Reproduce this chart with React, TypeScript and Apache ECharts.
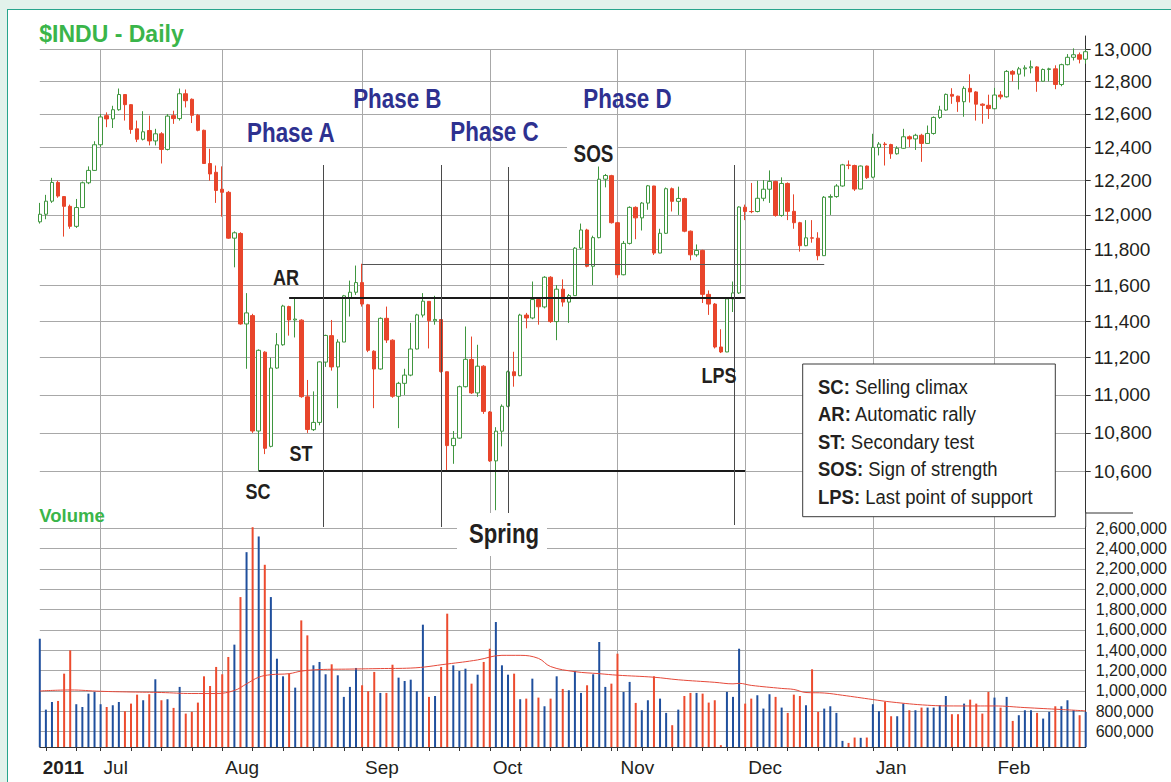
import React, { useEffect, useRef } from 'react';
import * as echarts from 'echarts';

const FONT = '"Liberation Sans", Arial, Helvetica, sans-serif';

// Trading days shown on the chart (year-month, day numbers)
const tradingDays: [string, number[]][] = [
  ['2011-06', [17, 20, 21, 22, 23, 24, 27, 28, 29, 30]],
  ['2011-07', [1, 5, 6, 7, 8, 11, 12, 13, 14, 15, 18, 19, 20, 21, 22, 25, 26, 27, 28, 29]],
  ['2011-08', [1, 2, 3, 4, 5, 8, 9, 10, 11, 12, 15, 16, 17, 18, 19, 22, 23, 24, 25, 26, 29, 30, 31]],
  ['2011-09', [1, 2, 6, 7, 8, 9, 12, 13, 14, 15, 16, 19, 20, 21, 22, 23, 26, 27, 28, 29, 30]],
  ['2011-10', [3, 4, 5, 6, 7, 10, 11, 12, 13, 14, 17, 18, 19, 20, 21, 24, 25, 26, 27, 28, 31]],
  ['2011-11', [1, 2, 3, 4, 7, 8, 9, 10, 11, 14, 15, 16, 17, 18, 21, 22, 23, 25, 28, 29, 30]],
  ['2011-12', [1, 2, 5, 6, 7, 8, 9, 12, 13, 14, 15, 16, 19, 20, 21, 22, 23, 27, 28, 29, 30]],
  ['2012-01', [3, 4, 5, 6, 9, 10, 11, 12, 13, 17, 18, 19, 20, 23, 24, 25, 26, 27, 30, 31]],
  ['2012-02', [1, 2, 3, 6, 7, 8, 9, 10, 13, 14, 15, 16, 17, 21, 22, 23]],
];
const dates: string[] = tradingDays.flatMap(([ym, days]) =>
  days.map((d) => `${ym}-${String(d).padStart(2, '0')}`)
);

const opens = [
  11960, 12004, 12080, 12190, 12107, 12050, 11934, 12043, 12188, 12261,
  12414, 12590, 12570, 12626, 12719, 12657, 12510, 12447, 12500, 12437,
  12480, 12386, 12590, 12572, 12724, 12690, 12592, 12501, 12302, 12250,
  12150, 12132, 11866, 11893, 11384, 11430, 10810, 11230, 10730, 11144,
  11270, 11480, 11406, 11405, 10990, 10817, 10855, 11176, 11320, 11150,
  11285, 11530, 11560, 11614, 11490, 11235, 11139, 11415, 11295, 10993,
  11062, 11106, 11247, 11433, 11509, 11401, 11408, 11124, 10734, 10773,
  11044, 11190, 11011, 11154, 10910, 10655, 10809, 10940, 11124, 11103,
  11433, 11417, 11519, 11478, 11644, 11397, 11577, 11505, 11541, 11809,
  11913, 11706, 11869, 12209, 12230, 11955, 11658, 11836, 12044, 11983,
  12069, 12169, 11781, 11894, 12153, 12079, 12095, 11906, 11771, 11796,
  11548, 11494, 11258, 11231, 11523, 11556, 12045, 12020, 12020, 12097,
  12150, 12196, 11997, 12184, 12021, 11955, 11823, 11868, 11866, 11766,
  12103, 12107, 12169, 12293, 12290, 12151, 12287, 12221, 12398, 12418,
  12415, 12360, 12393, 12462, 12449, 12471, 12422, 12482, 12579, 12624,
  12720, 12709, 12675, 12757, 12735, 12660, 12653, 12632, 12716, 12705,
  12862, 12845, 12878, 12884, 12890, 12801, 12874, 12878, 12781, 12904,
  12950, 12966, 12938,
];
const closes = [
  12004, 12080, 12190, 12110, 12050, 11934, 12043, 12188, 12261, 12414,
  12582, 12570, 12626, 12719, 12657, 12506, 12447, 12492, 12437, 12480,
  12386, 12587, 12572, 12724, 12681, 12592, 12501, 12302, 12240, 12143,
  12132, 11866, 11897, 11384, 11445, 10810, 11240, 10720, 11144, 11270,
  11483, 11406, 11411, 10991, 10818, 10855, 11177, 11321, 11150, 11285,
  11540, 11560, 11614, 11494, 11240, 11139, 11415, 11296, 10993, 11062,
  11106, 11247, 11434, 11510, 11402, 11409, 11125, 10734, 10772, 11044,
  11191, 11011, 11154, 10913, 10655, 10809, 10940, 11124, 11103, 11433,
  11417, 11519, 11479, 11644, 11397, 11577, 11505, 11541, 11809, 11913,
  11706, 11869, 12209, 12231, 11955, 11658, 11836, 12044, 11983, 12069,
  12170, 11781, 11894, 12153, 12079, 12096, 11906, 11771, 11796, 11548,
  11494, 11258, 11231, 11523, 11556, 12046, 12020, 12019, 12097, 12150,
  12196, 11997, 12184, 12021, 11955, 11823, 11868, 11866, 11766, 12103,
  12107, 12169, 12294, 12291, 12151, 12287, 12218, 12398, 12418, 12415,
  12360, 12393, 12462, 12449, 12471, 12422, 12482, 12579, 12624, 12720,
  12709, 12675, 12757, 12735, 12660, 12653, 12633, 12716, 12705, 12862,
  12845, 12878, 12884, 12891, 12801, 12874, 12878, 12781, 12904, 12950,
  12966, 12938, 12985,
];
const lows = [
  11950, 11975, 12070, 12100, 11875, 11920, 11925, 12040, 12180, 12258,
  12400, 12520, 12515, 12620, 12560, 12480, 12430, 12440, 12410, 12410,
  12302, 12380, 12540, 12560, 12640, 12545, 12495, 12300, 12200, 12070,
  11990, 11862, 11700, 11380, 11140, 10800, 10604, 10690, 10725, 11140,
  11265, 11320, 11310, 10985, 10800, 10810, 10840, 11150, 11130, 10930,
  11285, 11425, 11545, 11480, 11230, 10930, 11135, 11280, 10985, 10825,
  11000, 11100, 11245, 11420, 11250, 11380, 11120, 10600, 10640, 10770,
  11040, 11005, 10990, 10900, 10650, 10404, 10730, 10935, 11044, 11100,
  11360, 11410, 11380, 11470, 11390, 11295, 11480, 11390, 11540, 11800,
  11700, 11600, 11865, 12161, 11950, 11640, 11655, 11830, 11860, 11910,
  12030, 11770, 11780, 11890, 12020, 12000, 11900, 11740, 11760, 11500,
  11434, 11250, 11225, 11230, 11450, 11550, 11970, 12010, 12015, 12080,
  12070, 11990, 11990, 11970, 11920, 11789, 11820, 11840, 11740, 11765,
  12000, 12100, 12165, 12268, 12140, 12150, 12210, 12215, 12350, 12290,
  12330, 12355, 12390, 12400, 12383, 12312, 12420, 12475, 12570, 12620,
  12662, 12613, 12583, 12670, 12560, 12541, 12570, 12630, 12690, 12700,
  12800, 12750, 12830, 12850, 12736, 12800, 12800, 12752, 12770, 12900,
  12930, 12912, 12910,
];
const highs = [
  12070, 12117, 12217, 12200, 12110, 12060, 12093, 12195, 12285, 12435,
  12600, 12610, 12650, 12756, 12720, 12660, 12560, 12617, 12590, 12510,
  12490, 12600, 12620, 12756, 12750, 12695, 12600, 12505, 12390, 12290,
  12285, 12140, 11905, 11900, 11555, 11440, 11245, 11235, 11200, 11334,
  11490, 11485, 11527, 11410, 11080, 11019, 11180, 11325, 11406, 11300,
  11545, 11625, 11710, 11720, 11495, 11240, 11420, 11480, 11300, 11070,
  11140, 11390, 11440, 11555, 11510, 11540, 11410, 11125, 10810, 11050,
  11370, 11315, 11270, 11160, 10915, 10830, 10950, 11130, 11232, 11440,
  11445, 11620, 11525, 11650, 11650, 11600, 11632, 11550, 11815, 11950,
  11920, 11880, 12284, 12240, 12235, 11960, 11850, 12050, 12050, 12075,
  12175, 12170, 11920, 12160, 12160, 12165, 12100, 11910, 11830, 11800,
  11570, 11500, 11355, 11530, 11620, 12050, 12060, 12187, 12200, 12204,
  12261, 12200, 12220, 12190, 12120, 11960, 11970, 11970, 11900, 12110,
  12120, 12180, 12300, 12320, 12295, 12290, 12290, 12480, 12430, 12430,
  12420, 12405, 12510, 12470, 12480, 12480, 12530, 12585, 12650, 12725,
  12758, 12712, 12770, 12844, 12740, 12665, 12718, 12760, 12740, 12870,
  12870, 12890, 12900, 12930, 12895, 12880, 12885, 12900, 12910, 12970,
  13006, 12980, 13000,
];
// Daily volume, thousands
const volumesK = [
  1513, 817, 892, 902, 1170, 1399, 870, 843, 974, 991,
  870, 843, 860, 892, 801, 876, 964, 909, 968, 1115,
  909, 919, 834, 1040, 778, 795, 886, 1144, 1049, 1236,
  1164, 1334, 1455, 1922, 2363, 2608, 2517, 2239, 1922, 1317,
  1144, 1170, 1033, 1693, 1546, 1252, 1285, 1164, 1262, 1154,
  942, 1040, 1226, 1056, 997, 1187, 981, 981, 1258, 1131,
  1098, 1111, 997, 1651, 942, 951, 1236, 1759, 1252, 1196,
  1219, 1072, 1160, 1285, 1415, 1677, 1252, 1160, 1170, 919,
  925, 1121, 935, 850, 925, 1144, 1020, 1007, 1196, 981,
  1056, 1164, 1481, 1040, 1072, 1366, 990, 1089, 883, 811,
  909, 1144, 925, 785, 664, 817, 951, 981, 981, 974,
  886, 909, 468, 991, 942, 1415, 876, 925, 958, 827,
  968, 942, 837, 785, 964, 951, 860, 1213, 795, 827,
  850, 785, 510, 490, 543, 540, 543, 870, 801, 893,
  752, 752, 876, 811, 811, 837, 837, 837, 860, 951,
  772, 772, 876, 915, 876, 778, 991, 935, 837, 942,
  706, 762, 811, 811, 785, 729, 795, 850, 850, 909,
  811, 762, 795,
];
// Volume moving-average line: [day index, volume]
const volumeAvgPoints: [number, number][] = [
  [0, 1000000], [5, 1010000], [10, 997000], [15, 990000], [20, 985000], [25, 975000],
  [29, 975000], [32, 1005000], [34, 1070000], [36, 1135000], [38, 1160000], [41, 1170000],
  [43, 1195000], [46, 1210000], [51, 1215000], [56, 1220000], [61, 1225000], [67, 1265000],
  [72, 1305000], [76, 1350000], [79, 1350000], [82, 1320000], [84, 1240000], [88, 1190000],
  [92, 1170000], [95, 1155000], [101, 1135000], [105, 1110000], [111, 1085000], [114, 1070000],
  [115, 1075000], [117, 1055000], [122, 1025000], [124, 1015000], [126, 985000], [129, 980000],
  [132, 958000], [137, 916000], [140, 892000], [146, 860000], [151, 853000], [157, 853000],
  [162, 837000], [168, 818000], [172, 805000],
];

const priceTicks = [10600, 10800, 11000, 11200, 11400, 11600, 11800, 12000, 12200, 12400, 12600, 12800, 13000];
const volumeTicks = [600000, 800000, 1000000, 1200000, 1400000, 1600000, 1800000, 2000000, 2200000, 2400000, 2600000];
const monthNames = ['Jan', 'Feb', 'Mar', 'Apr', 'May', 'Jun', 'Jul', 'Aug', 'Sep', 'Oct', 'Nov', 'Dec'];

// Wyckoff annotations (day indexes and price levels)
const supportLine = { from: 36, to: 116, price: 10604 };
const resistanceLine = { from: 41, to: 116, price: 11530 };
const upperLine = { from: 53, to: 129, price: 11720 };
const phaseDividers = [
  { at: 46.62, top: 165, bottom: 527 },
  { at: 65.93, top: 165, bottom: 527 },
  { at: 77.05, top: 167, bottom: 517 },
  { at: 114.16, top: 165, bottom: 525 },
];
const phaseLabels = [
  { text: 'Phase A', x: 290.8, y: 131.6 },
  { text: 'Phase B', x: 397.3, y: 98.2 },
  { text: 'Phase C', x: 494.5, y: 130.6 },
  { text: 'Phase D', x: 627.5, y: 98.2 },
];
const eventLabels = [
  { text: 'AR', x: 286, y: 277, size: 22 },
  { text: 'ST', x: 301, y: 453, size: 22 },
  { text: 'SC', x: 258, y: 491, size: 22 },
  { text: 'SOS', x: 593.5, y: 153.4, size: 23 },
  { text: 'LPS', x: 719, y: 375.4, size: 22 },
  { text: 'Spring', x: 504, y: 533.6, size: 27 },
];
const legendItems: [string, string][] = [
  ['SC:', 'Selling climax'],
  ['AR:', 'Automatic rally'],
  ['ST:', 'Secondary test'],
  ['SOS:', 'Sign of strength'],
  ['LPS:', 'Last point of support'],
];

const UP = '#3f963f';
const DOWN = '#e8452b';
const VOL_UP = '#1f4f9d';
const VOL_DOWN = '#ec4b2e';
const GRIDC = '#a8a8a8';
const TEXT = '#231f20';
const NAVY = '#2e3190';
const GREEN = '#3ab54a';

const monthOf = (d: string) => d.slice(0, 7);
const monthStart = dates.map((d, i) => i > 0 && monthOf(d) !== monthOf(dates[i - 1]));
const isMonday = dates.map((d) => new Date(d + 'T12:00:00Z').getUTCDay() === 1);

export default function App() {
  const ref = useRef<HTMLDivElement>(null);

  useEffect(() => {
    const el = ref.current;
    if (!el) return;
    const chart = echarts.init(el, null, { renderer: 'svg' });
    const L = 39.8;
    const R = 85.3;
    const logTicks = priceTicks.map((p) => Math.log(p));
    const candleData = dates.map((_, i) => [
      Math.log(opens[i]),
      Math.log(closes[i]),
      Math.log(lows[i]),
      Math.log(highs[i]),
    ]);
    const volData = volumesK.map((v, i) => ({
      value: v * 1000,
      itemStyle: { color: i === 0 || closes[i] >= closes[i - 1] ? VOL_UP : VOL_DOWN },
    }));
    const hLine = (ln: { from: number; to: number; price: number }, color: string, width: number) => [
      { coord: [dates[ln.from], Math.log(ln.price)], lineStyle: { color, width, type: 'solid' } },
      { coord: [dates[ln.to], Math.log(ln.price)] },
    ];

    chart.setOption({
      animation: false,
      backgroundColor: 'transparent',
      grid: [
        { left: L, right: R, top: 36, height: 476, outerBoundsMode: 'none' },
        { left: L, right: R, top: 527, height: 220, outerBoundsMode: 'none' },
        { left: L, right: R, top: 49, height: 698, outerBoundsMode: 'none' },
      ],
      xAxis: [
        { gridIndex: 0, type: 'category', data: dates, boundaryGap: false, show: false },
        {
          gridIndex: 1,
          type: 'category',
          data: dates,
          boundaryGap: false,
          axisLine: { show: true, lineStyle: { color: '#333', width: 1 } },
          axisTick: {
            show: true,
            interval: (i: number) => isMonday[i] || monthStart[i],
            length: 4,
            lineStyle: { color: '#333' },
          },
          axisLabel: {
            interval: (i: number) => i === 0 || monthStart[i],
            formatter: (value: string, index: number) =>
              index === 0 ? `{y|${value.slice(0, 4)}}` : monthNames[Number(value.slice(5, 7)) - 1],
            align: 'left',
            padding: [0, 0, 0, 3],
            margin: 11,
            color: TEXT,
            fontSize: 19,
            fontFamily: FONT,
            hideOverlap: false,
            rich: { y: { fontWeight: 'bold', fontSize: 19, fontFamily: FONT, color: TEXT } },
          },
          splitLine: { show: false },
        },
        {
          gridIndex: 2,
          type: 'category',
          data: dates,
          boundaryGap: false,
          axisLine: { show: false },
          axisTick: { show: false },
          axisLabel: { show: false },
          splitLine: {
            show: true,
            interval: (i: number) => monthStart[i],
            lineStyle: { color: GRIDC, width: 1 },
          },
        },
      ],
      yAxis: [
        {
          gridIndex: 0,
          type: 'value',
          position: 'right',
          min: Math.log(10395),
          max: Math.log(13084),
          axisLine: { show: true, lineStyle: { color: '#333', width: 1 } },
          axisTick: { show: true, customValues: logTicks, length: 5, lineStyle: { color: '#333' } },
          axisLabel: {
            customValues: logTicks,
            formatter: (v: number) => Math.round(Math.exp(v)).toLocaleString('en-US'),
            margin: 8,
            color: TEXT,
            fontSize: 19,
            fontFamily: FONT,
          },
          splitLine: { show: true, lineStyle: { color: GRIDC, width: 1 } },
        },
        {
          gridIndex: 1,
          type: 'value',
          position: 'right',
          min: 450000,
          max: 2610000,
          axisLine: { show: true, lineStyle: { color: '#333', width: 1 } },
          axisTick: { show: false, customValues: volumeTicks },
          axisLabel: {
            customValues: volumeTicks,
            formatter: (v: number) => Math.round(v).toLocaleString('en-US'),
            margin: 10,
            color: TEXT,
            fontSize: 16,
            fontFamily: FONT,
          },
          splitLine: { show: true, lineStyle: { color: GRIDC, width: 1 } },
        },
        { gridIndex: 2, type: 'value', show: false, min: 0, max: 1 },
      ],
      series: [
        {
          type: 'candlestick',
          xAxisIndex: 0,
          yAxisIndex: 0,
          data: candleData,
          barWidth: 4,
          itemStyle: {
            color: '#ffffff',
            color0: DOWN,
            borderColor: UP,
            borderColor0: DOWN,
            borderWidth: 1,
          },
          markLine: {
            silent: true,
            symbol: ['none', 'none'],
            label: { show: false },
            lineStyle: { color: '#1a1a1a', width: 2, type: 'solid' },
            data: [
              hLine(supportLine, '#1a1a1a', 2),
              hLine(resistanceLine, '#1a1a1a', 2),
              hLine(upperLine, '#555555', 1),
            ],
          },
        },
        {
          type: 'bar',
          xAxisIndex: 1,
          yAxisIndex: 1,
          data: volData,
          barWidth: 2,
        },
        {
          type: 'line',
          xAxisIndex: 1,
          yAxisIndex: 1,
          data: volumeAvgPoints,
          smooth: 0.4,
          symbol: 'none',
          lineStyle: { color: '#e5493a', width: 1 },
          z: 3,
        },
      ],
    });

    const xAt = (pos: number) => {
      const a = Math.floor(pos);
      const pa = chart.convertToPixel({ xAxisIndex: 0 }, a) as number;
      const pb = chart.convertToPixel({ xAxisIndex: 0 }, a + 1) as number;
      return pa + (pb - pa) * (pos - a);
    };

    const graphics: any[] = [];
    phaseDividers.forEach((p) => {
      const x = Math.round(xAt(p.at)) + 0.5;
      graphics.push({
        type: 'line',
        z: 12,
        shape: { x1: x, y1: p.top, x2: x, y2: p.bottom },
        style: { stroke: '#4a4a4a', lineWidth: 1 },
      });
    });
    // axis connector between the two panels
    graphics.push({ type: 'line', z: 12, shape: { x1: 1085.7, y1: 512, x2: 1085.7, y2: 527 }, style: { stroke: '#333', lineWidth: 1 } });
    graphics.push({ type: 'line', z: 12, shape: { x1: 1085.7, y1: 513, x2: 1133, y2: 513 }, style: { stroke: '#333', lineWidth: 1 } });
    // white boxes behind SOS and Spring
    graphics.push({ type: 'rect', z: 15, shape: { x: 567, y: 140, width: 50, height: 25 }, style: { fill: '#ffffff' } });
    graphics.push({ type: 'rect', z: 15, shape: { x: 457, y: 513, width: 90, height: 43 }, style: { fill: '#ffffff' } });
    // title and panel label
    graphics.push({
      type: 'text', z: 20, x: 39.3, y: 34.4,
      style: { text: '$INDU - Daily', fill: GREEN, fontSize: 23, fontWeight: 'bold', fontFamily: FONT, align: 'left', verticalAlign: 'middle' },
    });
    graphics.push({
      type: 'text', z: 20, x: 39.3, y: 515,
      style: { text: 'Volume', fill: GREEN, fontSize: 18.5, fontWeight: 'bold', fontFamily: FONT, align: 'left', verticalAlign: 'middle' },
    });
    phaseLabels.forEach((p) => {
      graphics.push({
        type: 'text', z: 20, x: p.x, y: p.y, scaleX: 0.8,
        style: { text: p.text, fill: NAVY, fontSize: 28, fontWeight: 'bold', fontFamily: FONT, align: 'center', verticalAlign: 'middle' },
      });
    });
    eventLabels.forEach((p) => {
      graphics.push({
        type: 'text', z: 20, x: p.x, y: p.y, scaleX: 0.82,
        style: { text: p.text, fill: TEXT, fontSize: p.size, fontWeight: 'bold', fontFamily: FONT, align: 'center', verticalAlign: 'middle' },
      });
    });
    // legend box
    graphics.push({
      type: 'rect', z: 15,
      shape: { x: 802.7, y: 364, width: 252.6, height: 152.7 },
      style: { fill: '#ffffff', stroke: '#3a3a3a', lineWidth: 1 },
    });
    legendItems.forEach(([k, v], i) => {
      graphics.push({
        type: 'text', z: 20, x: 818, y: 386.4 + i * 27.5, scaleX: 0.88,
        style: {
          text: `{b|${k}} ${v}`,
          fill: TEXT,
          fontSize: 21,
          fontFamily: FONT,
          align: 'left',
          verticalAlign: 'middle',
          rich: { b: { fontWeight: 'bold', fontSize: 21, fontFamily: FONT, fill: TEXT } },
        },
      });
    });

    chart.setOption({ graphic: graphics });

    return () => {
      chart.dispose();
    };
  }, []);

  return (
    <div style={{ position: 'fixed', left: 0, top: 0, width: 1171, height: 782, background: '#e2f2eb', overflow: 'hidden' }}>
      <div
        style={{
          position: 'absolute', left: 7, top: 9, width: 1170, height: 780,
          background: '#ffffff', borderLeft: '1.5px solid #27a58c', borderTop: '1.5px solid #27a58c',
        }}
      />
      <div ref={ref} style={{ position: 'absolute', left: 0, top: 0, width: 1171, height: 782 }} />
    </div>
  );
}
